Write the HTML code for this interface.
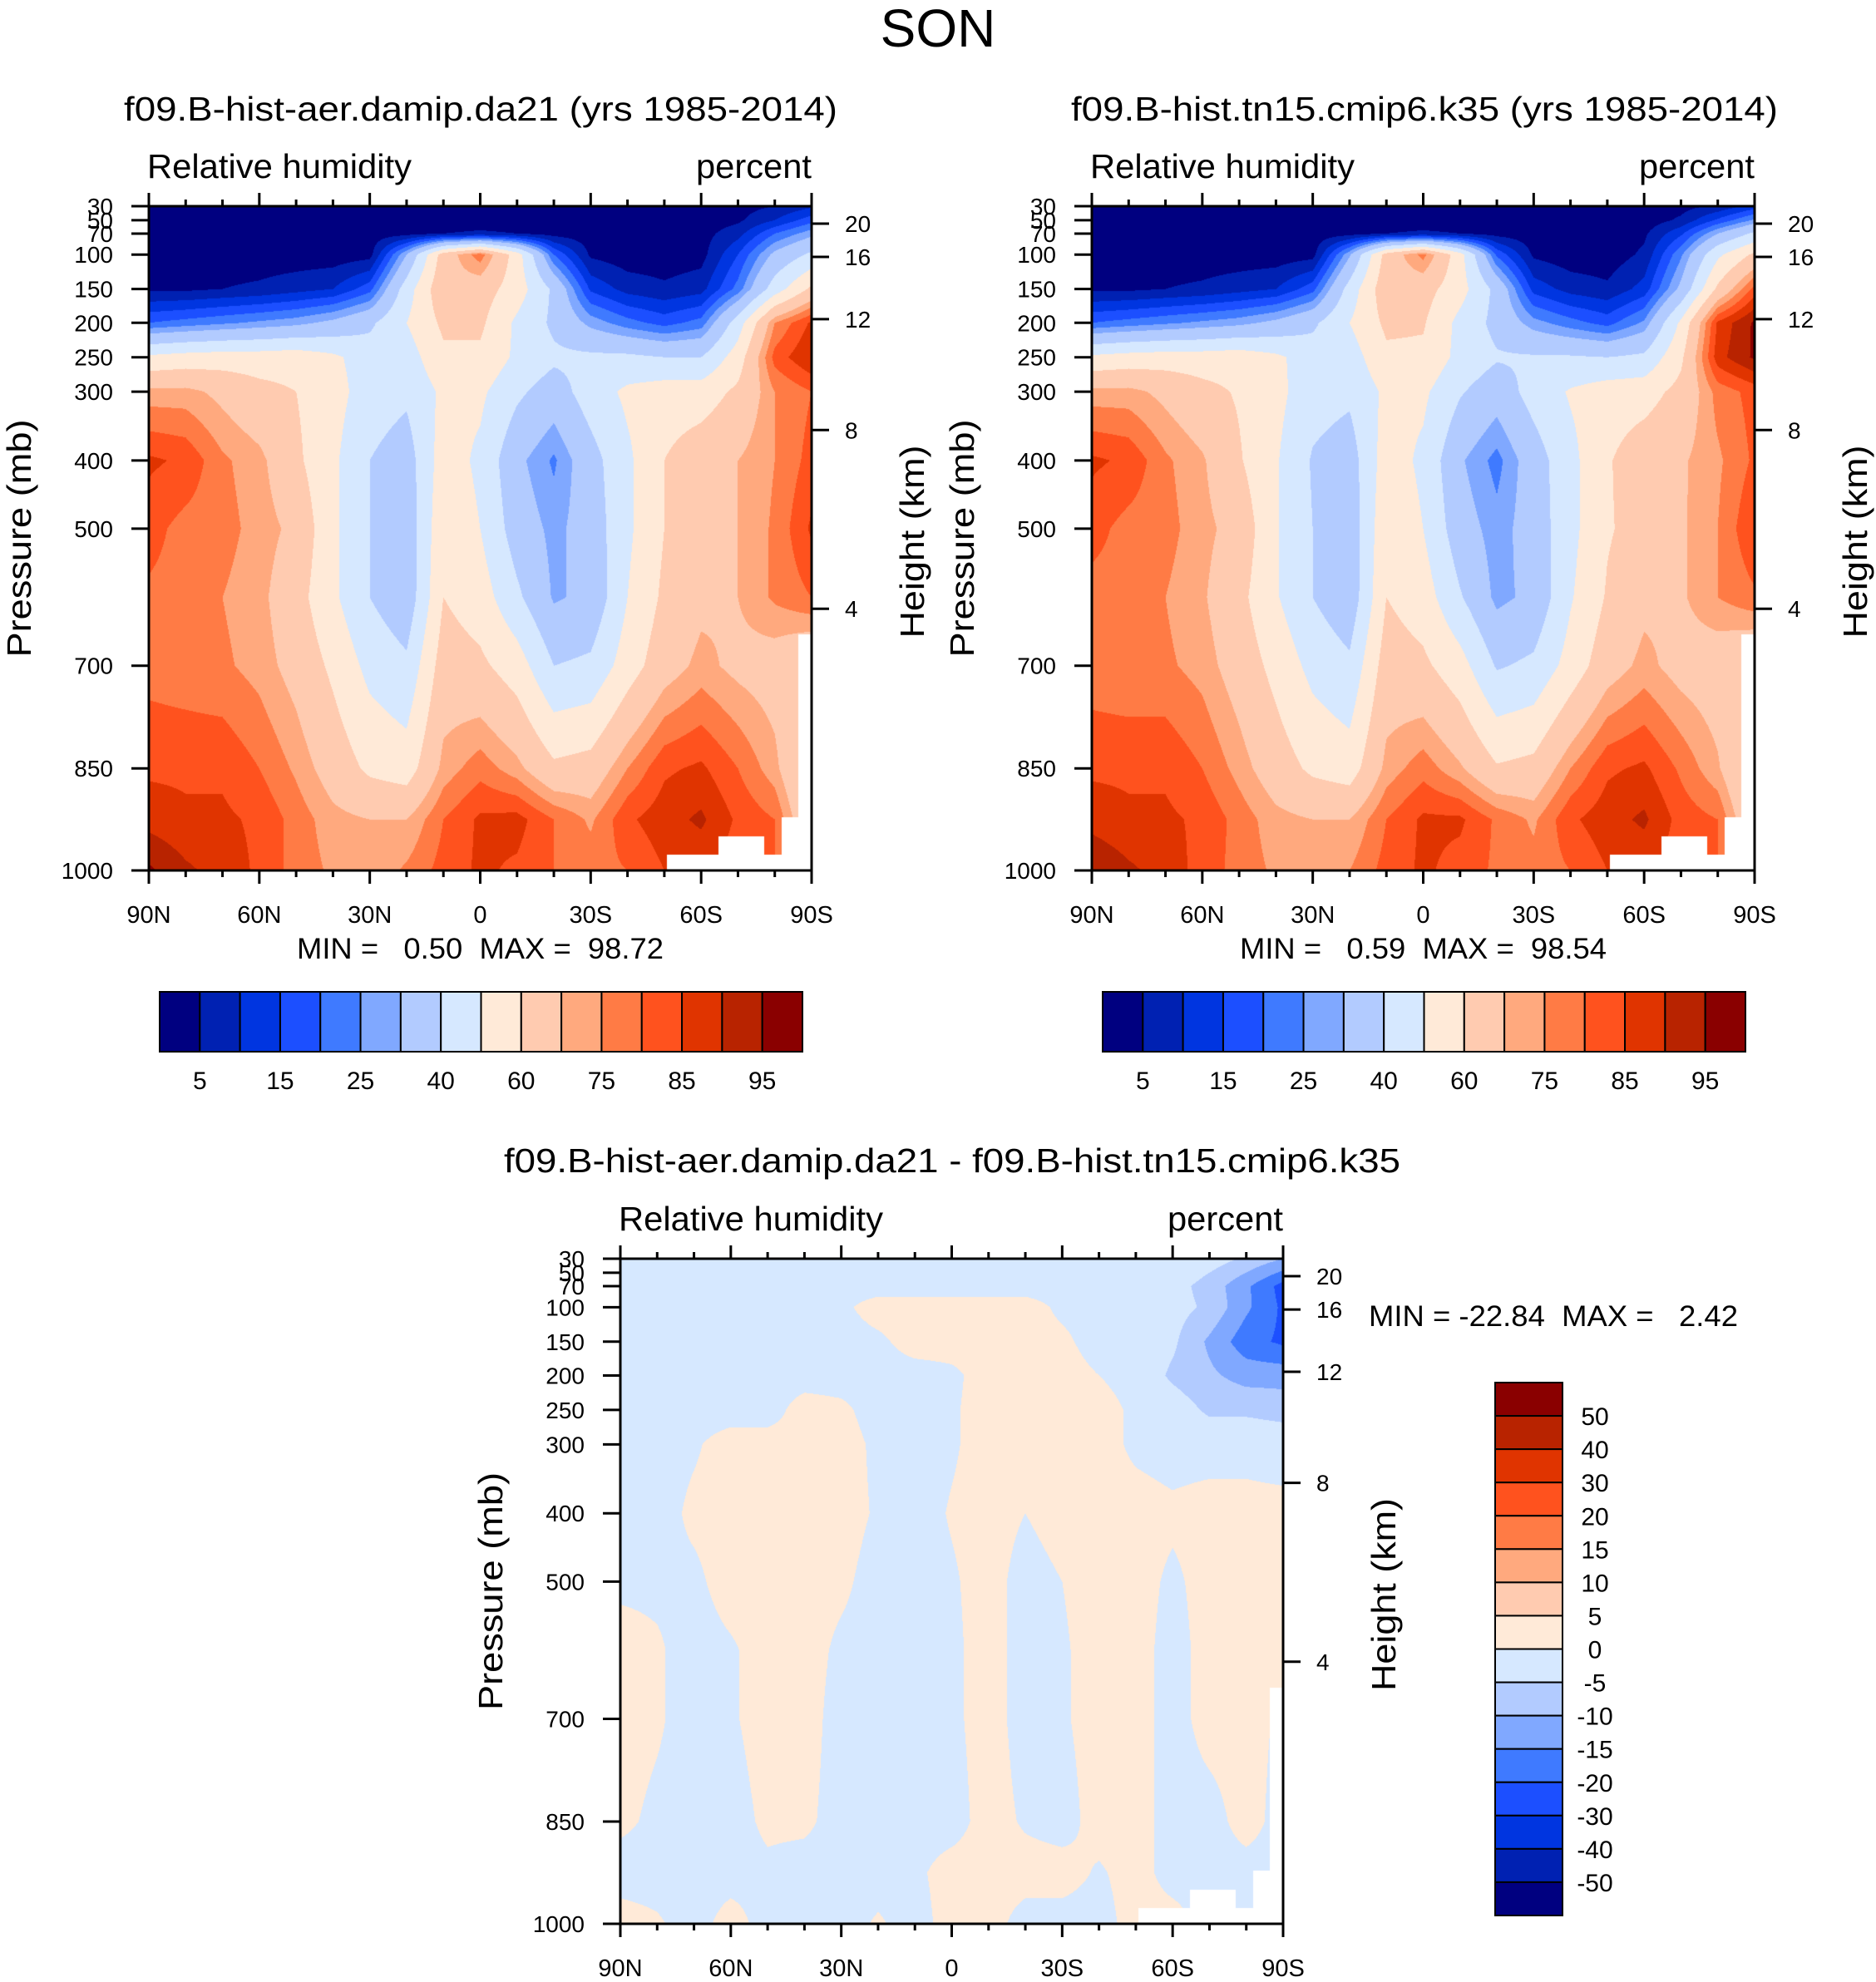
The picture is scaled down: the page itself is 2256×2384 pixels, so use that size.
<!DOCTYPE html>
<html><head><meta charset="utf-8">
<style>
html,body{margin:0;padding:0;background:#fff;}
#root{position:relative;width:2256px;height:2384px;overflow:hidden;background:#fff;}
canvas{position:absolute;}
svg{position:absolute;left:0;top:0;}
text{font-family:"Liberation Sans",Arial,sans-serif;fill:#000;}
</style></head>
<body>
<div id="root">
<canvas id="c1" width="797" height="799" style="left:179px;top:248px"></canvas>
<canvas id="c2" width="797" height="799" style="left:1313px;top:248px"></canvas>
<canvas id="c3" width="797" height="800" style="left:746px;top:1514px"></canvas>
<svg id="ov" width="2256" height="2384">
<text x="1128" y="56" font-size="64" text-anchor="middle">SON</text>
<text x="578" y="145" font-size="41" text-anchor="middle" textLength="858" lengthAdjust="spacingAndGlyphs">f09.B-hist-aer.damip.da21 (yrs 1985-2014)</text>
<text x="1713" y="145" font-size="41" text-anchor="middle" textLength="850" lengthAdjust="spacingAndGlyphs">f09.B-hist.tn15.cmip6.k35 (yrs 1985-2014)</text>
<text x="1145" y="1410" font-size="41" text-anchor="middle" textLength="1078" lengthAdjust="spacingAndGlyphs">f09.B-hist-aer.damip.da21 - f09.B-hist.tn15.cmip6.k35</text>
<text x="357" y="1153" font-size="35" xml:space="preserve" textLength="441" lengthAdjust="spacingAndGlyphs">MIN =   0.50  MAX =  98.72</text>
<text x="1491" y="1153" font-size="35" xml:space="preserve" textLength="441" lengthAdjust="spacingAndGlyphs">MIN =   0.59  MAX =  98.54</text>
<text x="1646" y="1595" font-size="35" xml:space="preserve" textLength="444" lengthAdjust="spacingAndGlyphs">MIN = -22.84  MAX =   2.42</text>
</svg>
</div>
<script>
// ---- data ----
const latLabels = ['90N','60N','30N','0','30S','60S','90S'];
const presTicks = [30,50,70,100,150,200,250,300,400,500,700,850,1000];
const heightTicks = [20,16,12,8,4];
const plev = [30,50,70,100,150,200,250,300,400,500,600,700,850,925,1000];
const rhLevels = [5,10,15,20,25,30,40,50,60,70,75,80,85,90,95];
const rhLabelVals = ['5','15','25','40','60','75','85','95'];
const diffLevels = [-50,-40,-30,-20,-15,-10,-5,0,5,10,15,20,30,40,50];
const diffLabelVals = ['50','40','30','20','15','10','5','0','-5','-10','-15','-20','-30','-40','-50'];
const palette = ['#000080','#0021b2','#0035e0','#1c4fff','#3f7aff','#80a8ff','#b2cbff','#d6e8ff','#ffead8','#ffcbb0','#ffa97e','#ff7b45','#ff521e','#e03400','#b82300','#8a0000'];
// columns: 90N,80N,...,0,...,80S,90S ; rows: plev
const rh1 = [
[2,2,2,2,2,2,2,2,2,2,2,2,2,2,2,2,3,5,9],
[2,2,2,2,2,2,2,2,2,2,2,2,2,2,2,2,4,10,18],
[2,2,2,2,2,2,2,3,5,6,5,3,2,2,2,3,8,20,28],
[2,2,2,2,2,2,3,30,65,78,55,20,4,2,2,3,15,32,42],
[4,4,5,6,8,10,18,45,68,65,55,38,14,8,6,8,22,45,62],
[20,22,24,26,28,32,38,50,62,62,48,38,28,22,18,22,45,75,86],
[52,54,55,55,56,52,45,45,58,58,48,42,42,42,40,40,55,82,90],
[72,72,68,63,60,54,45,42,52,52,42,35,45,52,55,55,62,75,80],
[86,84,76,72,62,52,40,35,55,48,32,24,36,48,60,66,70,75,82],
[82,78,77,73,68,52,40,33,58,50,35,28,34,48,60,65,70,76,86],
[79,78,75,72,64,52,40,33,60,55,42,29,32,50,62,68,70,76,80],
[78,77,76,73,67,58,47,42,65,62,55,40,42,55,66,72,68,66,60],
[84,84,84,80,74,66,58,55,72,78,72,62,64,75,84,86,80,72,55],
[88,86,86,84,78,72,70,70,80,86,87,80,74,84,88,91,84,80,60],
[96,91,88,84,78,74,71,76,82,86,84,80,78,80,85,86,82,80,70]
];
const rh2 = [
[2,2,2,2,2,2,2,2,2,2,2,2,2,2,2,2,3,6,12],
[2,2,2,2,2,2,2,2,2,2,2,2,2,2,2,2,6,16,26],
[2,2,2,2,2,2,2,3,5,6,5,3,2,2,2,4,14,30,42],
[2,2,2,2,2,2,3,29,64,77,54,19,4,2,2,6,24,48,62],
[4,4,5,6,8,10,18,44,67,64,54,37,13,8,6,12,32,62,82],
[20,22,24,26,28,32,38,50,62,61,47,37,27,22,18,26,52,86,96],
[52,54,55,55,56,52,45,45,58,58,47,41,41,41,40,42,58,88,96],
[72,72,68,63,59,53,44,42,52,52,41,34,44,51,55,56,63,77,82],
[86,84,76,71,61,51,39,35,55,48,31,23,35,47,59,66,69,74,81],
[82,78,77,72,67,51,40,33,58,50,34,27,34,47,59,64,69,75,85],
[78,78,75,71,63,51,40,33,60,55,41,28,32,49,61,68,69,75,79],
[77,76,76,73,66,57,47,42,65,62,54,39,42,54,66,72,67,65,60],
[84,84,84,80,73,65,58,55,72,78,71,61,63,75,84,86,79,71,55],
[88,86,86,84,78,72,70,70,80,86,86,79,74,84,88,91,83,80,60],
[95,91,88,83,78,74,71,75,82,86,83,79,77,80,85,86,82,80,70]
];
const rhDiff = [
[-1,-1,-1,-1,-1,-1,-1,-1,-1,-1,-1,-1,-1,-1,-1,-1,-2,-6,-10],
[-1,-1,-1,-1,-1,-1,-1,-1,-1,-1,-1,-1,-1,-1,-1,-1.5,-5,-10,-16],
[-1,-1,-1,-1,-1,-1,-1,-1,-1,-1,-1,-1,-1,-1,-1,-3,-7,-14,-22],
[-1,-1,-1,-1,-1,-1,-0.5,1,1,1,1,1,-0.5,-1,-1,-3,-6,-14,-21],
[-1,-1,-1,-1,-1,-1,-1,-0.5,1,1,1,1,0.5,-1,-1,-4,-11,-18,-21],
[-1,-1,-1,-1,-1,-1,-1,-1,-1,-0.5,1,1,1,0,-1,-6,-9,-12,-12],
[-1.5,-1,-1,-1,-1,1,0.5,-1,-1,-0.3,1,1,1,1,-0.5,-2,-6,-6,-7],
[-1,-1,-0.3,1,1,0.5,1,-0.5,-1,-0.3,1,1,1,1,-0.5,-1,-1,-1,-1.5],
[-1,-1,0.5,1,1,1,1,-0.3,-1,0.2,1,0,1,1,1,0.5,1,1,1],
[-0.5,-0.5,-0.5,1,1,1,0.5,-1,-1,-0.3,1,-1,0,1,1,-0.5,1,1,1],
[1,0.3,-1,-0.3,1,1,-0.5,-1,-1,-0.5,1,-1,-0.3,1,1,-1,1,1,1],
[1,0.3,-1,-0.3,1,1,-1,-1,-1,-0.5,1,-1,-0.3,1,1,-1,1,1,-0.5],
[0.5,-0.5,-1,-1,0.5,0.5,-1,-1,-1,-1,1,-0.3,-1,1,1,-1,-1,1,-1],
[-1,-1,-1,-1,-0.5,-1,-1,-1,-0.5,1,1,1,1,-0.3,1,-1,-1,-1,-1],
[1,0.3,-1,1,-1,-1,-1,0.3,-1,1,1,-1,-1,-1,1,1,-1,-1,-1]
];

// ---- axis definitions (vertical layout of the hybrid pressure axis) ----
const presFrac = [0,0.0211,0.0413,0.0729,0.1247,0.1756,0.2274,0.2792,0.3828,0.4855,0.6918,0.8463,1];
const heightFrac = [0.0263,0.0764,0.170,0.337,0.606];
const maskBoxes = [[0.782,0.859,0.976],[0.859,0.928,0.949],[0.928,0.955,0.976],[0.955,0.98,0.92],[0.98,1.0,0.645]];

function fracToP(f){
  for(let i=0;i<presTicks.length-1;i++){
    if(f<=presFrac[i+1]){const t=(f-presFrac[i])/(presFrac[i+1]-presFrac[i]);return presTicks[i]+t*(presTicks[i+1]-presTicks[i]);}
  }
  return 1000;
}
function pToFrac(p){
  for(let i=0;i<presTicks.length-1;i++){
    if(p<=presTicks[i+1]){const t=(p-presTicks[i])/(presTicks[i+1]-presTicks[i]);return presFrac[i]+t*(presFrac[i+1]-presFrac[i]);}
  }
  return 1;
}
function hexRGB(h){return [parseInt(h.substr(1,2),16),parseInt(h.substr(3,2),16),parseInt(h.substr(5,2),16)];}
const rgb = palette.map(hexRGB);

function render(id, grid, levels){
  const cv=document.getElementById(id), ctx=cv.getContext('2d');
  const W=cv.width,H=cv.height, img=ctx.createImageData(W,H), d=img.data;
  const nc=grid[0].length;
  for(let py=0;py<H;py++){
    const fy=(py+0.5)/H, p=fracToP(fy);
    let k=0; while(k<plev.length-2 && p>plev[k+1]) k++;
    const t=Math.max(0,Math.min(1,(p-plev[k])/(plev[k+1]-plev[k])));
    for(let px=0;px<W;px++){
      const fx=(px+0.5)/W;
      let masked=false;
      for(const m of maskBoxes){ if(fx>=m[0]&&fx<m[1]&&fy>=m[2]){masked=true;break;} }
      const o=(py*W+px)*4;
      if(masked){d[o]=d[o+1]=d[o+2]=255;d[o+3]=255;continue;}
      const u=fx*(nc-1); let i=Math.min(nc-2,Math.floor(u)); const s=u-i;
      const v=(1-t)*((1-s)*grid[k][i]+s*grid[k][i+1])+t*((1-s)*grid[k+1][i]+s*grid[k+1][i+1]);
      let idx=0; while(idx<levels.length && v>=levels[idx]) idx++;
      const c=rgb[idx]; d[o]=c[0];d[o+1]=c[1];d[o+2]=c[2];d[o+3]=255;
    }
  }
  ctx.putImageData(img,0,0);
}
render('c1', rh1, rhLevels);
render('c2', rh2, rhLevels);
render('c3', rhDiff, diffLevels);

// ---- SVG axes ----
const NS='http://www.w3.org/2000/svg';
const ov=document.getElementById('ov');
function mk(tag, attrs, parent){const e=document.createElementNS(NS,tag);for(const k in attrs)e.setAttribute(k,attrs[k]);(parent||ov).appendChild(e);return e;}

function axes(x0,y0,W,H,pfx){
  const g=mk('g',{});
  
  
  const fr=mk('rect',{x:x0,y:y0,width:W,height:H,fill:'none',stroke:'#000','stroke-width':3},g);
  
  
  for(let lat=90;lat>=-90;lat-=10){
    const x=x0+(90-lat)/180*W, major=(lat%30===0), L=major?16:8;
    const t1=mk('line',{x1:x,y1:y0,x2:x,y2:y0-L,stroke:'#000','stroke-width':3},g);
    
    
    const t2=mk('line',{x1:x,y1:y0+H,x2:x,y2:y0+H+L,stroke:'#000','stroke-width':3},g);
    
    
  }
  latLabels.forEach((lb,i)=>{
    const x=x0+i*W/6;
    const tx=mk('text',{x:x,y:y0+H+63,'font-size':29,'text-anchor':'middle'},g);
    tx.textContent=lb;
    
    
  });
  presTicks.forEach((p,i)=>{
    const y=y0+pToFrac(p)*H;
    const tl=mk('line',{x1:x0-21,y1:y,x2:x0,y2:y,stroke:'#000','stroke-width':3},g);
    
    
    const tx=mk('text',{x:x0-43,y:y+10,'font-size':28,'text-anchor':'end'},g);
    tx.textContent=String(p);
    
    
  });
  heightTicks.forEach((h,i)=>{
    const y=y0+heightFrac[i]*H;
    const tl=mk('line',{x1:x0+W,y1:y,x2:x0+W+21,y2:y,stroke:'#000','stroke-width':3},g);
    
    
    const tx=mk('text',{x:x0+W+40,y:y+10,'font-size':28},g);
    tx.textContent=String(h);
    
    
  });
  const a=mk('text',{x:x0-2,y:y0-34,'font-size':41,textLength:318,lengthAdjust:'spacingAndGlyphs'},g);
  a.textContent='Relative humidity';
  
  
  const b=mk('text',{x:x0+W,y:y0-34,'font-size':41,'text-anchor':'end',textLength:139,lengthAdjust:'spacingAndGlyphs'},g);
  b.textContent='percent';
  
  
  const cy=y0+H*0.5;
  const yl=mk('text',{x:0,y:0,'font-size':41,'text-anchor':'middle',transform:'translate('+(x0-142)+','+cy+') rotate(-90)',textLength:286,lengthAdjust:'spacingAndGlyphs'},g);
  yl.textContent='Pressure (mb)';
  
  
  const hl=mk('text',{x:0,y:0,'font-size':41,'text-anchor':'middle',transform:'translate('+(x0+W+135)+','+(cy+4)+') rotate(-90)',textLength:232,lengthAdjust:'spacingAndGlyphs'},g);
  hl.textContent='Height (km)';
  
  
}
axes(179,248,797,799,'panel1');
axes(1313,248,797,799,'panel2');
axes(746,1514,797,800,'diff');

function hbar(x0,y0,W,H,pfx){
  const g=mk('g',{});
  
  
  const bw=W/palette.length;
  palette.forEach((c,i)=>{
    const r=mk('rect',{x:x0+i*bw,y:y0,width:bw,height:H,fill:c,stroke:'#000','stroke-width':2},g);
    
    
  });
  rhLabelVals.forEach((v,i)=>{
    const x=x0+(2*i+1)*bw;
    const t=mk('text',{x:x,y:y0+H+45,'font-size':30,'text-anchor':'middle'},g);
    t.textContent=v;
    
    
  });
}
hbar(192,1193,773,72,'panel1');
hbar(1326,1193,773,72,'panel2');

(function(){
  const x0=1798,y0=1663,W=81,H=641;
  const g=mk('g',{});
  
  
  const bh=H/palette.length;
  palette.slice().reverse().forEach((c,i)=>{
    const r=mk('rect',{x:x0,y:y0+i*bh,width:W,height:bh,fill:c,stroke:'#000','stroke-width':2},g);
    
    
  });
  diffLabelVals.forEach((v,i)=>{
    const y=y0+(i+1)*bh;
    const t=mk('text',{x:1918,y:y+11,'font-size':30,'text-anchor':'middle'},g);
    t.textContent=v;
    
    
  });
})();
</script>
</body></html>
